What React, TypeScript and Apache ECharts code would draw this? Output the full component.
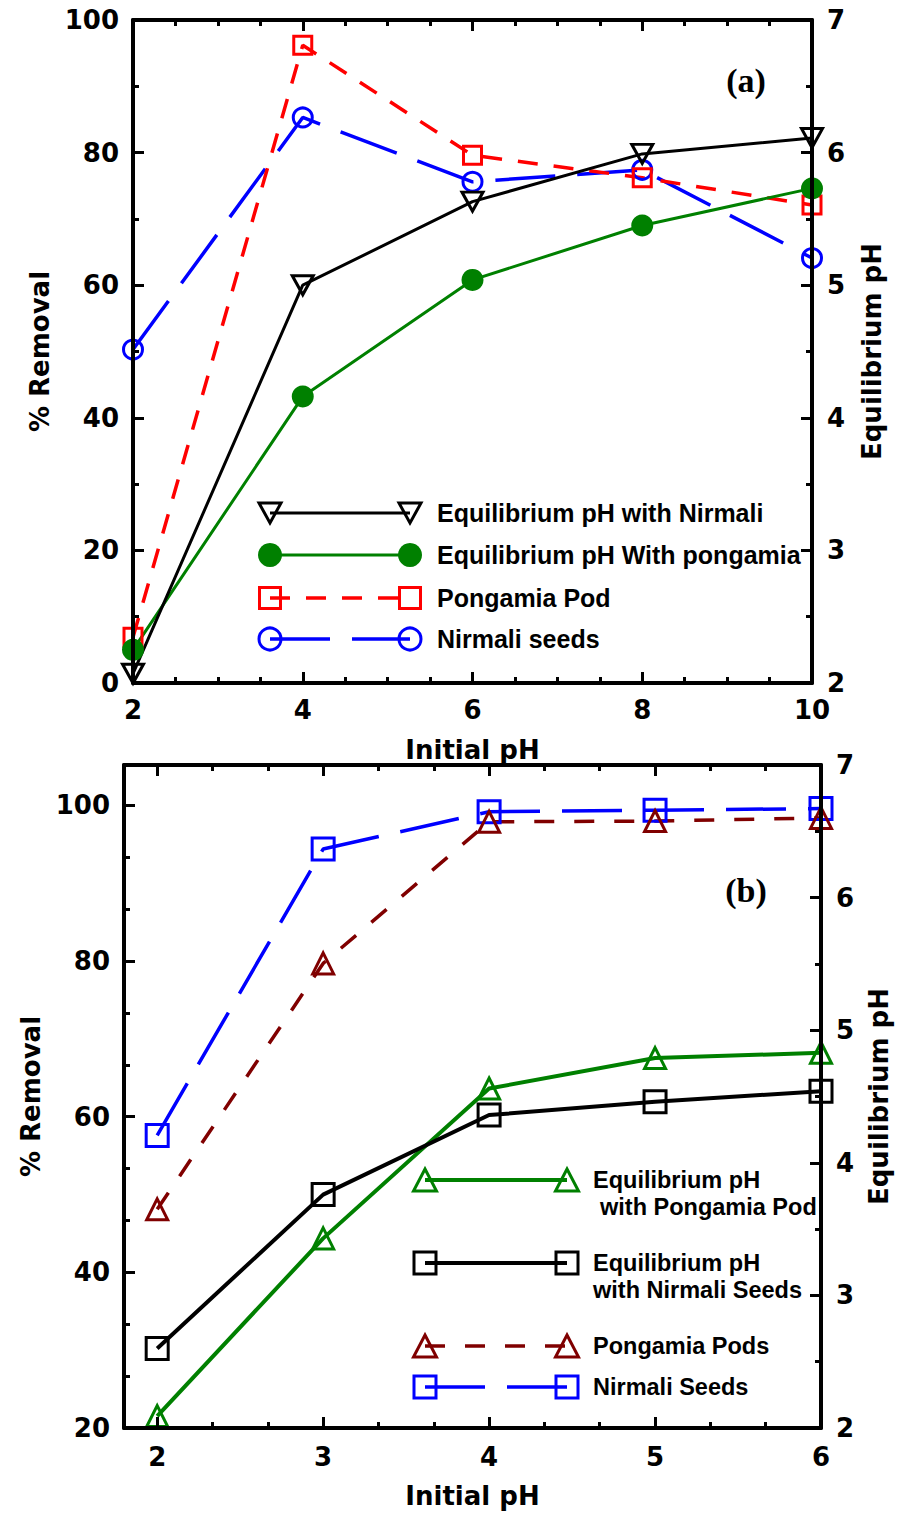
import React, { useEffect, useRef } from 'react';
import * as echarts from 'echarts';

// ---------- data: panel (a) ----------
const topX = [2, 4, 6, 8, 10];
const topEqNirmali = [2.07, 5.0, 5.63, 5.99, 6.11];
const topEqPongamia = [2.25, 4.16, 5.04, 5.45, 5.73];
const topPongamiaPod = [6.9, 96.2, 79.6, 76.2, 72.1];
const topNirmaliSeeds = [50.3, 85.3, 75.6, 77.4, 64.1];

// ---------- data: panel (b) ----------
const botX = [2, 3, 4, 5, 6];
const botEqPongamia = [2.09, 3.43, 4.56, 4.79, 4.83];
const botEqNirmali = [2.6, 3.76, 4.36, 4.46, 4.54];
const botPongamiaPods = [48.1, 79.7, 97.9, 98.0, 98.4];
const botNirmaliSeeds = [57.6, 94.4, 99.2, 99.4, 99.6];

// ---------- labels ----------
const topLegend = [
  'Equilibrium pH with Nirmali',
  'Equilibrium pH With pongamia',
  'Pongamia Pod',
  'Nirmali seeds',
];
const botLegend = [
  ['Equilibrium pH', 'with Pongamia Pod'],
  ['Equilibrium pH', 'with Nirmali Seeds'],
  ['Pongamia Pods'],
  ['Nirmali Seeds'],
];
const xName = 'Initial pH';
const yLeftName = '% Removal';
const yRightName = 'Equilibrium pH';

const SANS = "'DejaVu Sans', sans-serif";
const LEG = "'Liberation Sans', Arial, sans-serif";
const GREEN = '#008000';
const RED = '#ff0000';
const BLUE = '#0000ff';
const BROWN = '#800000';
const BLACK = '#000000';

const pairs = (xs: number[], ys: number[]) => xs.map((x, i) => [x, ys[i]]);

const labelStyle = { fontSize: 26, fontWeight: 'bold', fontFamily: SANS, color: '#000' };
const nameStyle = { fontSize: 26, fontWeight: 'bold', fontFamily: SANS, color: '#000' };

function axisBase(extra: any) {
  return {
    type: 'value',
    axisLine: { show: true, onZero: false, lineStyle: { color: '#000', width: 4 } },
    axisTick: { show: true, inside: true, length: 11, lineStyle: { color: '#000', width: 3 } },
    minorTick: { show: true, length: 6, lineStyle: { color: '#000', width: 3 } },
    splitLine: { show: false },
    minorSplitLine: { show: false },
    z: 5,
    ...extra,
  };
}

function hollow(color: string) {
  return { color: 'rgba(0,0,0,0)', borderColor: color, borderWidth: 3 };
}

export default function App() {
  const ref = useRef<HTMLDivElement>(null);

  useEffect(() => {
    document.body.style.margin = '0';
    const chart = echarts.init(ref.current!, null, { renderer: 'svg' });

    const intFmt = (v: number) => (Math.abs(v - Math.round(v)) < 1e-6 ? String(Math.round(v)) : '');
    const twentyFmt = (v: number) => (Math.abs(v % 20) < 1e-6 ? String(v) : '');

    const xAxis = [
      axisBase({
        gridIndex: 0, position: 'bottom', min: 2, max: 10, interval: 2,
        minorTick: { show: true, splitNumber: 4, length: 6, lineStyle: { color: '#000', width: 3 } },
        axisLabel: { ...labelStyle, margin: 14 },
        name: xName, nameLocation: 'middle', nameGap: 54, nameTextStyle: nameStyle,
      }),
      axisBase({
        gridIndex: 0, position: 'top', min: 2, max: 10, interval: 2,
        minorTick: { show: true, splitNumber: 4, length: 6, lineStyle: { color: '#000', width: 3 } },
        axisLabel: { show: false },
      }),
      axisBase({
        gridIndex: 1, position: 'bottom', min: 1.8, max: 6, splitNumber: 4,
        minorTick: { show: true, splitNumber: 3, length: 6, lineStyle: { color: '#000', width: 3 } },
        axisLabel: { ...labelStyle, margin: 16, showMinLabel: false, formatter: intFmt },
        name: xName, nameLocation: 'middle', nameGap: 55, nameTextStyle: nameStyle,
      }),
      axisBase({
        gridIndex: 1, position: 'top', min: 1.8, max: 6, splitNumber: 4,
        minorTick: { show: true, splitNumber: 3, length: 6, lineStyle: { color: '#000', width: 3 } },
        axisLabel: { show: false },
      }),
    ];

    const yAxis = [
      axisBase({
        gridIndex: 0, position: 'left', min: 0, max: 100, interval: 20,
        minorTick: { show: true, splitNumber: 2, length: 6, lineStyle: { color: '#000', width: 3 } },
        axisLabel: { ...labelStyle, margin: 14 },
        name: yLeftName, nameLocation: 'middle', nameGap: 80, nameTextStyle: nameStyle,
      }),
      axisBase({
        gridIndex: 0, position: 'right', min: 2, max: 7, interval: 1,
        minorTick: { show: true, splitNumber: 2, length: 6, lineStyle: { color: '#000', width: 3 } },
        axisLabel: { ...labelStyle, margin: 15 },
        name: yRightName, nameLocation: 'middle', nameGap: 47, nameTextStyle: nameStyle,
      }),
      axisBase({
        gridIndex: 1, position: 'left', min: 20, max: 105.2, interval: 20,
        minorTick: { show: true, splitNumber: 3, length: 6, lineStyle: { color: '#000', width: 3 } },
        axisLabel: { ...labelStyle, margin: 14, showMaxLabel: false, formatter: twentyFmt },
        name: yLeftName, nameLocation: 'middle', nameGap: 80, nameTextStyle: nameStyle,
      }),
      axisBase({
        gridIndex: 1, position: 'right', min: 2, max: 7, interval: 1,
        minorTick: { show: true, splitNumber: 2, length: 6, lineStyle: { color: '#000', width: 3 } },
        axisLabel: { ...labelStyle, margin: 15 },
        name: yRightName, nameLocation: 'middle', nameGap: 45, nameTextStyle: nameStyle,
      }),
    ];

    const series: any[] = [
      // panel (a)
      {
        name: topLegend[3], type: 'line', xAxisIndex: 0, yAxisIndex: 0,
        data: pairs(topX, topNirmaliSeeds), symbol: 'circle', symbolSize: 19,
        lineStyle: { color: BLUE, width: 3.5, type: [60, 22] }, itemStyle: hollow(BLUE),
      },
      {
        name: topLegend[2], type: 'line', xAxisIndex: 0, yAxisIndex: 0,
        data: pairs(topX, topPongamiaPod), symbol: 'rect', symbolSize: 18,
        lineStyle: { color: RED, width: 3.5, type: [20, 16] }, itemStyle: hollow(RED),
      },
      {
        name: topLegend[1], type: 'line', xAxisIndex: 0, yAxisIndex: 1,
        data: pairs(topX, topEqPongamia), symbol: 'circle', symbolSize: 22,
        lineStyle: { color: GREEN, width: 3 }, itemStyle: { color: GREEN },
      },
      {
        name: topLegend[0], type: 'line', xAxisIndex: 0, yAxisIndex: 1,
        data: pairs(topX, topEqNirmali), symbol: 'triangle', symbolRotate: 180, symbolSize: [21, 19],
        lineStyle: { color: BLACK, width: 3 }, itemStyle: hollow(BLACK),
      },
      // panel (b)
      {
        name: botLegend[3][0], type: 'line', xAxisIndex: 2, yAxisIndex: 2,
        data: pairs(botX, botNirmaliSeeds), symbol: 'rect', symbolSize: 22,
        lineStyle: { color: BLUE, width: 3.5, type: [60, 22] }, itemStyle: hollow(BLUE),
      },
      {
        name: botLegend[2][0], type: 'line', xAxisIndex: 2, yAxisIndex: 2,
        data: pairs(botX, botPongamiaPods), symbol: 'triangle', symbolSize: 21,
        lineStyle: { color: BROWN, width: 3.5, type: [20, 20] }, itemStyle: hollow(BROWN),
      },
      {
        name: botLegend[0].join(' '), type: 'line', xAxisIndex: 2, yAxisIndex: 3,
        data: pairs(botX, botEqPongamia), symbol: 'triangle', symbolSize: 21,
        lineStyle: { color: GREEN, width: 4 }, itemStyle: hollow(GREEN),
      },
      {
        name: botLegend[1].join(' '), type: 'line', xAxisIndex: 2, yAxisIndex: 3,
        data: pairs(botX, botEqNirmali), symbol: 'rect', symbolSize: 22,
        lineStyle: { color: BLACK, width: 4 }, itemStyle: hollow(BLACK),
      },
    ];

    // ---------- hand-drawn legends (line with a marker at both ends) ----------
    const g: any[] = [];
    const legLine = (x1: number, x2: number, y: number, color: string, w: number, dash?: number[]) =>
      g.push({ type: 'line', shape: { x1, y1: y, x2, y2: y }, style: { stroke: color, lineWidth: w, lineDash: dash || null }, z: 10 });
    const legRect = (cx: number, cy: number, s: number, color: string) =>
      g.push({ type: 'rect', shape: { x: cx - s / 2, y: cy - s / 2, width: s, height: s }, style: { fill: 'none', stroke: color, lineWidth: 3 }, z: 11 });
    const legCircle = (cx: number, cy: number, r: number, color: string, filled: boolean) =>
      g.push({ type: 'circle', shape: { cx, cy, r }, style: { fill: filled ? color : 'none', stroke: color, lineWidth: filled ? 0 : 3 }, z: 11 });
    const legTri = (cx: number, cy: number, w: number, h: number, color: string, down: boolean) =>
      g.push({
        type: 'polygon',
        shape: {
          points: down
            ? [[cx - w / 2, cy - h / 2], [cx + w / 2, cy - h / 2], [cx, cy + h / 2]]
            : [[cx, cy - h / 2], [cx + w / 2, cy + h / 2], [cx - w / 2, cy + h / 2]],
        },
        style: { fill: 'none', stroke: color, lineWidth: 3 }, z: 11,
      });
    const legText = (x: number, y: number, text: string, size: number) =>
      g.push({ type: 'text', x, y, style: { text, fill: '#000', font: `bold ${size}px ${LEG}`, align: 'left', verticalAlign: 'middle' }, z: 12 });

    // panel (a) legend
    const ax1 = 270, ax2 = 410, atx = 437;
    const ay = [513, 555, 598, 639];
    legLine(ax1, ax2, ay[0], BLACK, 3);
    legTri(ax1, ay[0], 22, 20, BLACK, true); legTri(ax2, ay[0], 22, 20, BLACK, true);
    legText(atx, ay[0], topLegend[0], 25);
    legLine(ax1, ax2, ay[1], GREEN, 3);
    legCircle(ax1, ay[1], 12, GREEN, true); legCircle(ax2, ay[1], 12, GREEN, true);
    legText(atx, ay[1], topLegend[1], 25);
    legLine(ax1, ax2, ay[2], RED, 3.5, [20, 16]);
    legRect(ax1, ay[2], 21, RED); legRect(ax2, ay[2], 21, RED);
    legText(atx, ay[2], topLegend[2], 25);
    legLine(ax1, ax2, ay[3], BLUE, 3.5, [60, 22]);
    legCircle(ax1, ay[3], 11, BLUE, false); legCircle(ax2, ay[3], 11, BLUE, false);
    legText(atx, ay[3], topLegend[3], 25);

    // panel (b) legend
    const bx1 = 425, bx2 = 567, btx = 593;
    const by = [1180, 1263, 1346, 1387];
    legLine(bx1, bx2, by[0], GREEN, 4);
    legTri(bx1, by[0], 23, 22, GREEN, false); legTri(bx2, by[0], 23, 22, GREEN, false);
    legText(btx, by[0], botLegend[0][0], 23.5);
    legText(btx + 7, by[0] + 27, botLegend[0][1], 23.5);
    legLine(bx1, bx2, by[1], BLACK, 4);
    legRect(bx1, by[1], 22, BLACK); legRect(bx2, by[1], 22, BLACK);
    legText(btx, by[1], botLegend[1][0], 23.5);
    legText(btx, by[1] + 27, botLegend[1][1], 23.5);
    legLine(bx1, bx2, by[2], BROWN, 3.5, [20, 20]);
    legTri(bx1, by[2], 23, 22, BROWN, false); legTri(bx2, by[2], 23, 22, BROWN, false);
    legText(btx, by[2], botLegend[2][0], 23.5);
    legLine(bx1, bx2, by[3], BLUE, 3.5, [60, 22]);
    legRect(bx1, by[3], 22, BLUE); legRect(bx2, by[3], 22, BLUE);
    legText(btx, by[3], botLegend[3][0], 23.5);

    // panel tags
    g.push({ type: 'text', x: 746, y: 80, style: { text: '(a)', fill: '#000', font: "bold 34px 'Liberation Serif', serif", align: 'center', verticalAlign: 'middle' }, z: 12 });
    g.push({ type: 'text', x: 746, y: 890, style: { text: '(b)', fill: '#000', font: "bold 34px 'Liberation Serif', serif", align: 'center', verticalAlign: 'middle' }, z: 12 });

    chart.setOption({
      animation: false,
      backgroundColor: '#fff',
      grid: [
        { left: 133, top: 20, width: 679, height: 663 },
        { left: 124, top: 765, width: 697, height: 663 },
      ],
      xAxis,
      yAxis,
      series,
      graphic: g,
    });

    return () => chart.dispose();
  }, []);

  return <div ref={ref} style={{ width: 901, height: 1513 }} />;
}
